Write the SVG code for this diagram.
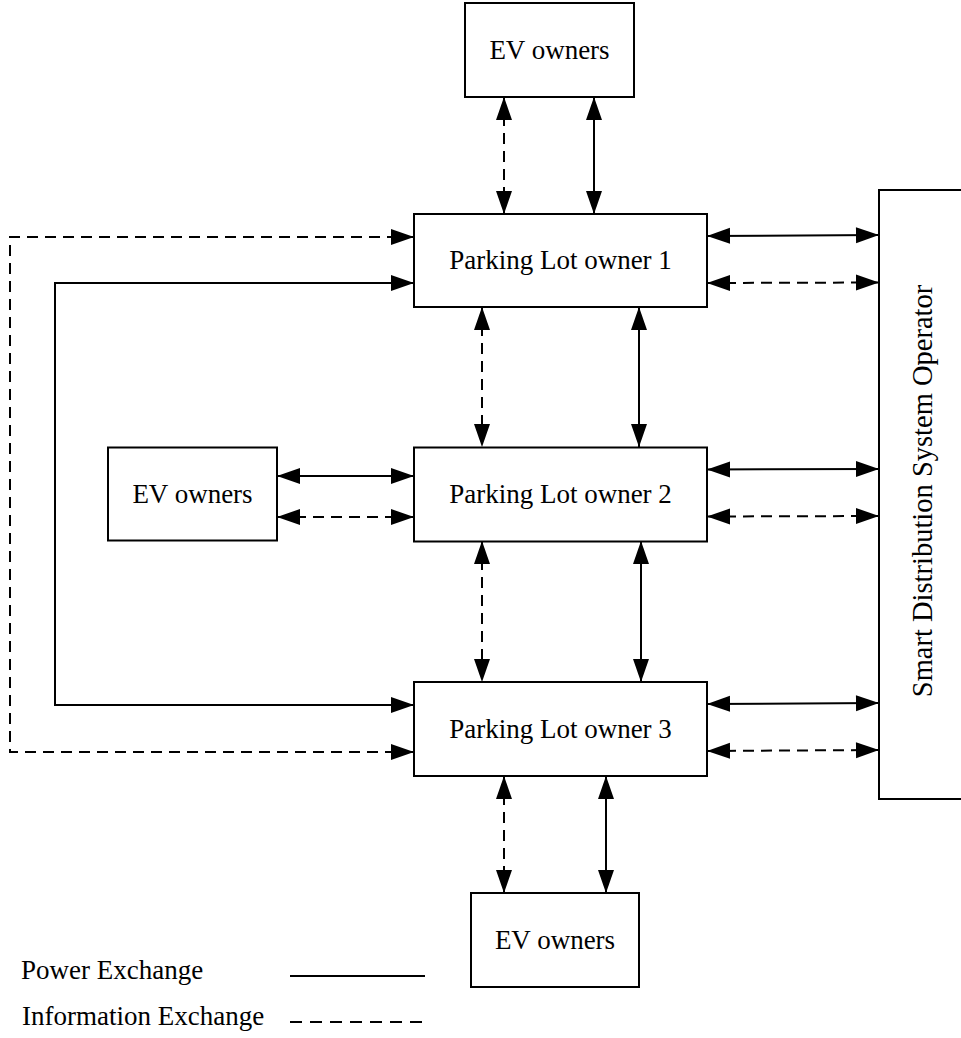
<svg xmlns="http://www.w3.org/2000/svg" width="961" height="1038" viewBox="0 0 961 1038">
<style>
.box{fill:#fff;stroke:#000;stroke-width:2}
.lbl{font-family:"Liberation Serif","Times New Roman",serif;font-size:27px;fill:#000}
.pw{fill:none;stroke:#000;stroke-width:2}
.info{fill:none;stroke:#000;stroke-width:2;stroke-dasharray:11 7}
.arr{marker-start:url(#ah);marker-end:url(#ah)}
</style>
<defs>
<marker id="ah" markerUnits="userSpaceOnUse" markerWidth="26" markerHeight="18" refX="23" refY="8" orient="auto-start-reverse" overflow="visible">
<path d="M0,0 L23,8 L0,16 z" fill="#000"/>
</marker>
</defs>
<rect width="961" height="1038" fill="#fff"/>
<g id="connectors">
<line class="info arr" x1="504" y1="97" x2="504" y2="214"/>
<line class="pw arr" x1="594" y1="97" x2="594" y2="214"/>
<line class="info arr" x1="482" y1="307" x2="482" y2="447"/>
<line class="pw arr" x1="639" y1="307" x2="639" y2="447"/>
<line class="info arr" x1="482" y1="541" x2="482" y2="682"/>
<line class="pw arr" x1="641" y1="541" x2="641" y2="682"/>
<line class="info arr" x1="504" y1="776" x2="504" y2="893"/>
<line class="pw arr" x1="606" y1="776" x2="606" y2="893"/>
<line class="pw arr" x1="707" y1="236" x2="879" y2="235"/>
<line class="info arr" x1="707" y1="283" x2="879" y2="282.5"/>
<line class="pw arr" x1="707" y1="469.5" x2="879" y2="469"/>
<line class="info arr" x1="707" y1="516.5" x2="879" y2="516"/>
<line class="pw arr" x1="707" y1="704" x2="879" y2="703"/>
<line class="info arr" x1="707" y1="751" x2="879" y2="750"/>
<line class="pw arr" x1="277" y1="476" x2="414" y2="476"/>
<line class="info arr" x1="277" y1="517" x2="414" y2="517"/>
<polyline class="info arr" points="414,752 10,752 10,237 414,237"/>
<polyline class="pw arr" points="414,705 55,705 55,283 414,283"/>
<line x1="290" y1="976" x2="425" y2="976" stroke="#000" stroke-width="2"/>
<line x1="290" y1="1022" x2="430" y2="1022" stroke="#000" stroke-width="2" stroke-dasharray="12 8"/>
</g>
<g id="ev-top"><rect class="box" x="465" y="3" width="169" height="94"/><text class="lbl" x="549.5" y="59" text-anchor="middle">EV owners</text></g>
<g id="pl1"><rect class="box" x="414" y="214" width="293" height="93"/><text class="lbl" x="560.5" y="269" text-anchor="middle">Parking Lot owner 1</text></g>
<g id="pl2"><rect class="box" x="414" y="447.5" width="293" height="94"/><text class="lbl" x="560.5" y="503" text-anchor="middle">Parking Lot owner 2</text></g>
<g id="pl3"><rect class="box" x="414" y="682" width="293" height="94"/><text class="lbl" x="560.5" y="738" text-anchor="middle">Parking Lot owner 3</text></g>
<g id="ev-mid"><rect class="box" x="108" y="447.5" width="169" height="93"/><text class="lbl" x="192.5" y="503" text-anchor="middle">EV owners</text></g>
<g id="ev-bot"><rect class="box" x="471" y="893" width="168" height="94"/><text class="lbl" x="555" y="949" text-anchor="middle">EV owners</text></g>
<g id="sdso"><rect class="box" x="879" y="190" width="100" height="609"/><text class="lbl" style="font-size:28.5px" transform="translate(932,491) rotate(-90)" text-anchor="middle">Smart Distribution System Operator</text></g>
<g id="legend">
<text class="lbl" x="21" y="979">Power Exchange</text>
<text class="lbl" x="22" y="1025">Information Exchange</text>
</g>
</svg>
